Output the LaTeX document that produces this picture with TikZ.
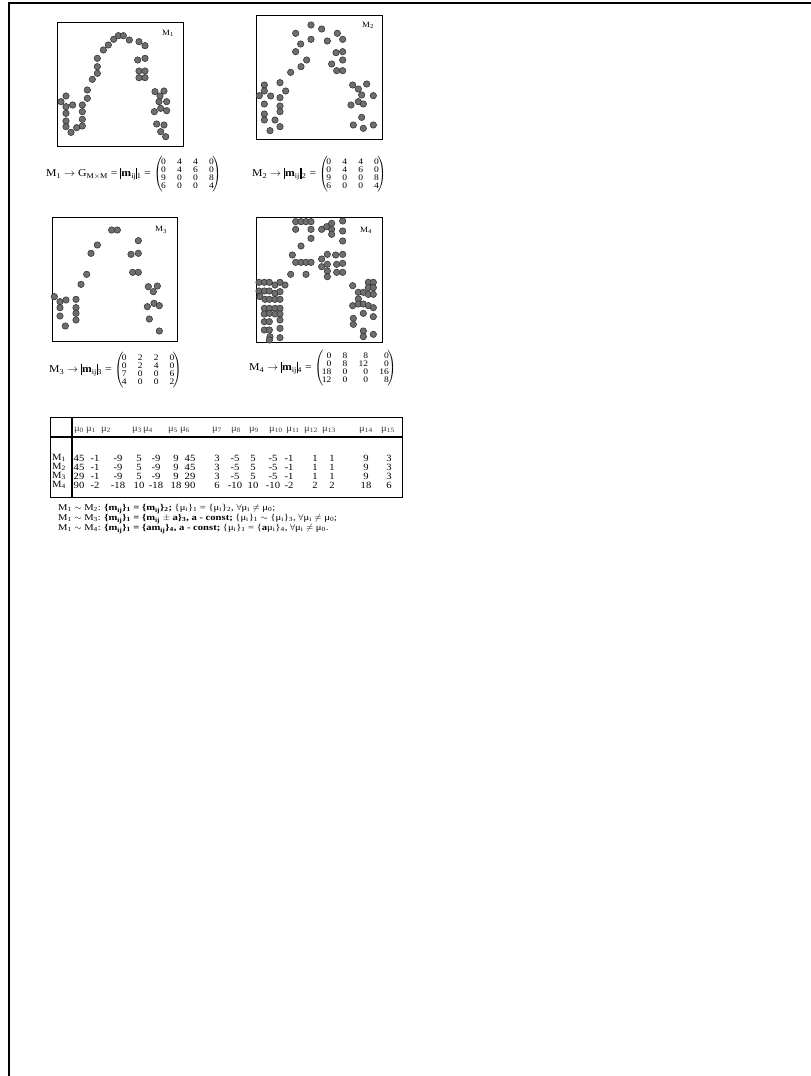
\documentclass[tikz,border=0pt]{standalone}
\usepackage{fontspec}
\setmainfont[FakeStretch=1.12]{Liberation Serif}
\newfontfamily\relfont[FakeStretch=1.19]{Liberation Serif}
\newcommand\mymat[1]{$\left(\hspace{-1.5pt}\fontsize{8.5}{8.2}\selectfont\setlength\tabcolsep{5.6pt}\begin{tabular}{@{}rrrr@{}}#1\end{tabular}\hspace{-1.5pt}\right)$}
\newcommand\lbar{\rule[-2.5pt]{1pt}{11pt}}
\newcommand\rbar{\rule[-2.5pt]{0.5pt}{11pt}}
\newcommand\mij{\textbf{m}\textsubscript{ij}}
\newcommand\mui{μ\textsubscript{i}}
\begin{document}
\begin{tikzpicture}[x=1pt,y=-1pt,
  dotst/.style={fill={rgb,255:red,110;green,110;blue,110},draw={rgb,255:red,55;green,55;blue,55},line width=0.6pt},
  boxst/.style={draw=black,line width=1pt},
  lab/.style={font=\fontsize{8}{9}\selectfont,inner sep=0pt},
  eq/.style={font=\fontsize{10.5}{11}\selectfont,inner sep=0pt,anchor=west},
  cell/.style={font=\fontsize{9.5}{10}\selectfont,inner sep=0pt},
  hcell/.style={font=\fontsize{9.5}{10}\selectfont,inner sep=0pt,text={rgb,255:red,60;green,60;blue,60}},
  txt/.style={font=\relfont\fontsize{8.9}{9.5}\selectfont,inner sep=0pt,anchor=west}]
\useasboundingbox (0,0) rectangle (811,1076);
\fill[white] (0,0) rectangle (811,1076);
\draw[line width=2.5pt] (9,1076) -- (9,3) -- (811,3);
% boxes
\draw[boxst] (57,22) rectangle (183,146);
\draw[boxst] (256,15) rectangle (382,139);
\draw[boxst] (52,217) rectangle (177,341);
\draw[boxst] (256,217) rectangle (382,342);
% M1 dots
\begin{scope}[shift={(40,10)},x=0.33333pt,y=-0.33333pt]
\foreach \a/\b in {221/88,235/77,250/77,268/90,205/105,190/120,172/145,172/170,172/190,157/208,142/240,142/265,
 297/95,315/107,293/150,315/145,297/183,315/183,297/203,315/203,
 78/258,63/275,78/290,98/285,78/310,78/333,78/350,93/367,110/353,127/348,127/328,127/305,127/285,
 345/245,372/243,360/258,357/275,380/275,362/295,380/302,343/305,350/342,372/345,362/365,377/380}
 \filldraw[dotst] (\a,\b) circle (3.2pt);
\end{scope}
% M2 dots
\begin{scope}[shift={(240,10)},x=0.33333pt,y=-0.33333pt]
\foreach \a/\b in {213/45,245/57,167/70,292/70,213/88,262/93,308/88,182/102,167/125,288/128,308/125,200/150,183/170,275/162,308/150,290/182,308/182,152/187,
 73/225,120/218,73/243,137/243,58/257,92/258,120/263,73/282,120/288,120/305,73/312,73/330,105/330,90/362,120/350,
 338/225,380/222,355/237,365/255,400/257,355/275,370/282,333/285,365/322,340/345,370/355,400/345}
 \filldraw[dotst] (\a,\b) circle (3.2pt);
\end{scope}
% M3 dots
\begin{scope}[shift={(40,205)},x=0.33333pt,y=-0.33333pt]
\foreach \a/\b in {215/75,232/75,295/107,172/120,153/145,273/148,295/145,278/202,295/202,140/208,123/238,325/245,352/243,340/260,
 43/275,60/290,78/285,108/283,60/308,108/308,108/325,60/333,108/345,76/363,
 342/295,322/305,358/302,328/342,358/378}
 \filldraw[dotst] (\a,\b) circle (3.2pt);
\end{scope}
% M4 dots
\begin{scope}[shift={(240,205)},x=0.33333pt,y=-0.33333pt]
\foreach \a/\b in {167/50,183/50,198/50,213/50,167/73,213/73,213/100,245/73,260/65,275/55,275/73,308/48,308/78,275/88,308/108,183/123,157/150,167/172,183/172,198/172,213/172,198/208,152/208,
 245/162,262/148,287/150,308/148,245/185,262/178,262/198,262/215,290/178,308/175,290/202,308/202,
 57/232,73/232,88/232,105/240,120/232,135/240,57/258,73/258,88/258,105/265,120/260,60/275,75/283,88/283,105/283,120/283,
 73/310,88/310,105/310,120/310,73/327,88/325,105/327,120/327,73/350,88/350,120/345,73/375,88/375,120/370,90/395,88/405,120/398,
 338/242,385/232,400/232,385/248,400/248,355/262,370/262,385/268,400/268,355/282,338/302,355/297,370/297,385/302,400/308,
 370/325,400/335,340/340,340/358,370/378,400/388,370/395}
 \filldraw[dotst] (\a,\b) circle (3.2pt);
\end{scope}
% labels
\node[lab] (l1) at (168,33) {M\textsubscript{1}};
\node[lab] (l2) at (368,25) {M\textsubscript{2}};
\node[lab] (l3) at (161,230) {M\textsubscript{3}};
\node[lab] (l4) at (366,230) {M\textsubscript{4}};
% equations
\node[eq] (e1) at (46,174) {M\textsubscript{1} $\rightarrow$ G\textsubscript{M$\times$M} = \lbar\mij\rbar\textsubscript{1} = \mymat{0&4&4&0\\0&4&6&0\\9&0&0&8\\6&0&0&4}};
\node[eq] (e2) at (252,174) {M\textsubscript{2} $\rightarrow$ \lbar\mij\rbar\hspace{1pt}\rbar\textsubscript{2} = \mymat{0&4&4&0\\0&4&6&0\\9&0&0&8\\6&0&0&4}};
\node[eq] (e3) at (49,370) {M\textsubscript{3} $\rightarrow$ \lbar\mij\rbar\textsubscript{3} = \mymat{0&2&2&0\\0&2&4&0\\7&0&0&6\\4&0&0&2}};
\node[eq] (e4) at (249,368) {M\textsubscript{4} $\rightarrow$ \lbar\mij\rbar\textsubscript{4} = \mymat{0&8&8&0\\0&8&12&0\\18&0&0&16\\12&0&0&8}};
% table
\draw[line width=0.9pt] (50,417) rectangle (402,497);
\draw[line width=1.6pt] (50,437) -- (402,437);
\draw[line width=1.6pt] (72,417) -- (72,497);
\def\cols{{79,95,118,139,156,176,190,217,235,253,273,289,315,332,366,389}}
\def\hcols{{79,91,106,137,148,173,185,217,236,254,276,293,311,329,366,388}}
\foreach \i in {0,...,15}{
  \pgfmathsetmacro\hx{\hcols[\i]}
  \node[hcell] (h\i) at (\hx,430) {μ\textsubscript{\i}};
}
\foreach \r/\yy/\vals in {1/458/{45,-1,-9,5,-9,9,45,3,-5,5,-5,-1,1,1,9,3},
                          2/467/{45,-1,-9,5,-9,9,45,3,-5,5,-5,-1,1,1,9,3},
                          3/476/{29,-1,-9,5,-9,9,29,3,-5,5,-5,-1,1,1,9,3},
                          4/485/{90,-2,-18,10,-18,18,90,6,-10,10,-10,-2,2,2,18,6}}{
  \node[cell,anchor=west] (r\r) at (52,\yy) {M\textsubscript{\r}};
  \foreach \v [count=\k from 0] in \vals {
    \pgfmathsetmacro\cx{\cols[\k]}
    \node[cell] (c\r-\k) at (\cx,\yy) {\v};
  }
}
% relations
\node[txt] (t1) at (58,509) {M\textsubscript{1} $\sim$ M\textsubscript{2}: \textbf{\{\mij\}\textsubscript{1} = \{\mij\}\textsubscript{2};} \{\mui\}\textsubscript{1} = \{\mui\}\textsubscript{2}, $\forall$\mui{} $\neq$ μ\textsubscript{0};};
\node[txt] (t2) at (58,519) {M\textsubscript{1} $\sim$ M\textsubscript{3}: \textbf{\{\mij\}\textsubscript{1} = \{\mij{} $\pm$ a\}\textsubscript{3}, a - const;} \{\mui\}\textsubscript{1} $\sim$ \{\mui\}\textsubscript{3}, $\forall$\mui{} $\neq$ μ\textsubscript{0};};
\node[txt] (t3) at (58,529) {M\textsubscript{1} $\sim$ M\textsubscript{4}: \textbf{\{\mij\}\textsubscript{1} = \{am\textsubscript{ij}\}\textsubscript{4}, a - const;} \{\mui\}\textsubscript{1} = \{\textbf{a}\mui\}\textsubscript{4}, $\forall$\mui{} $\neq$ μ\textsubscript{0}.};
\end{tikzpicture}
\end{document}
